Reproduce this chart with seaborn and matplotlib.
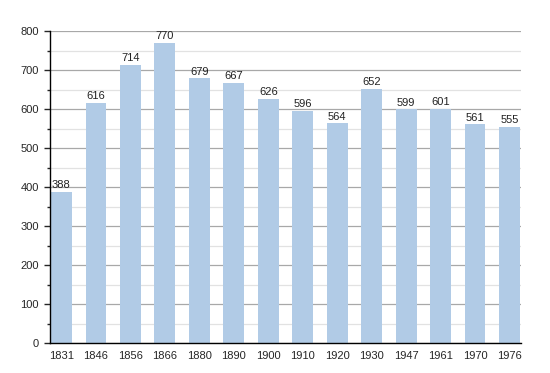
import matplotlib
matplotlib.use("Agg")
import matplotlib.pyplot as plt
from matplotlib.ticker import MultipleLocator
import seaborn as sns
import pandas as pd

years = ["1831", "1846", "1856", "1866", "1880", "1890", "1900",
         "1910", "1920", "1930", "1947", "1961", "1970", "1976"]
population = [388, 616, 714, 770, 679, 667, 626, 596, 564, 652, 599, 601, 561, 555]

df = pd.DataFrame({"year": years, "pop": population})

sns.set_style("white")
plt.rcParams['font.family'] = ['Liberation Sans', 'DejaVu Sans']

fig = plt.figure(figsize=(5.5, 3.73), dpi=100)
ax = fig.add_axes([50 / 550, 30 / 373, 471 / 550, 312 / 373])

sns.barplot(data=df, x="year", y="pop", color="#b1cbe6", saturation=1,
            width=0.6, linewidth=0, ax=ax)
for p in ax.patches:
    p.set_zorder(3)
ax.bar_label(ax.containers[0], fontsize=8, padding=1, color="#222222")

ax.set_ylim(0, 800)
ax.set_xlim(-0.33, 13.33)
ax.yaxis.set_major_locator(MultipleLocator(100))
ax.yaxis.set_minor_locator(MultipleLocator(50))
ax.set_axisbelow(True)
ax.grid(axis="y", which="major", color="#a8a8a8", linewidth=0.9, zorder=0)
ax.grid(axis="y", which="minor", color="#e2e2e2", linewidth=0.9, zorder=0)

for s in ["top", "right"]:
    ax.spines[s].set_visible(False)
ax.spines["left"].set_color("black")
ax.spines["bottom"].set_color("black")
ax.spines["left"].set_linewidth(1)
ax.spines["bottom"].set_linewidth(1)
ax.spines["left"].set_zorder(4)
ax.spines["bottom"].set_zorder(4)

ax.tick_params(axis="y", which="major", left=True, length=4, width=1, labelsize=8, pad=4)
ax.tick_params(axis="y", which="minor", left=True, length=2, width=1)
ax.tick_params(axis="x", bottom=False, labelsize=8, pad=2)
ax.set_xlabel("")
ax.set_ylabel("")

plt.savefig("out.png", dpi=100)
